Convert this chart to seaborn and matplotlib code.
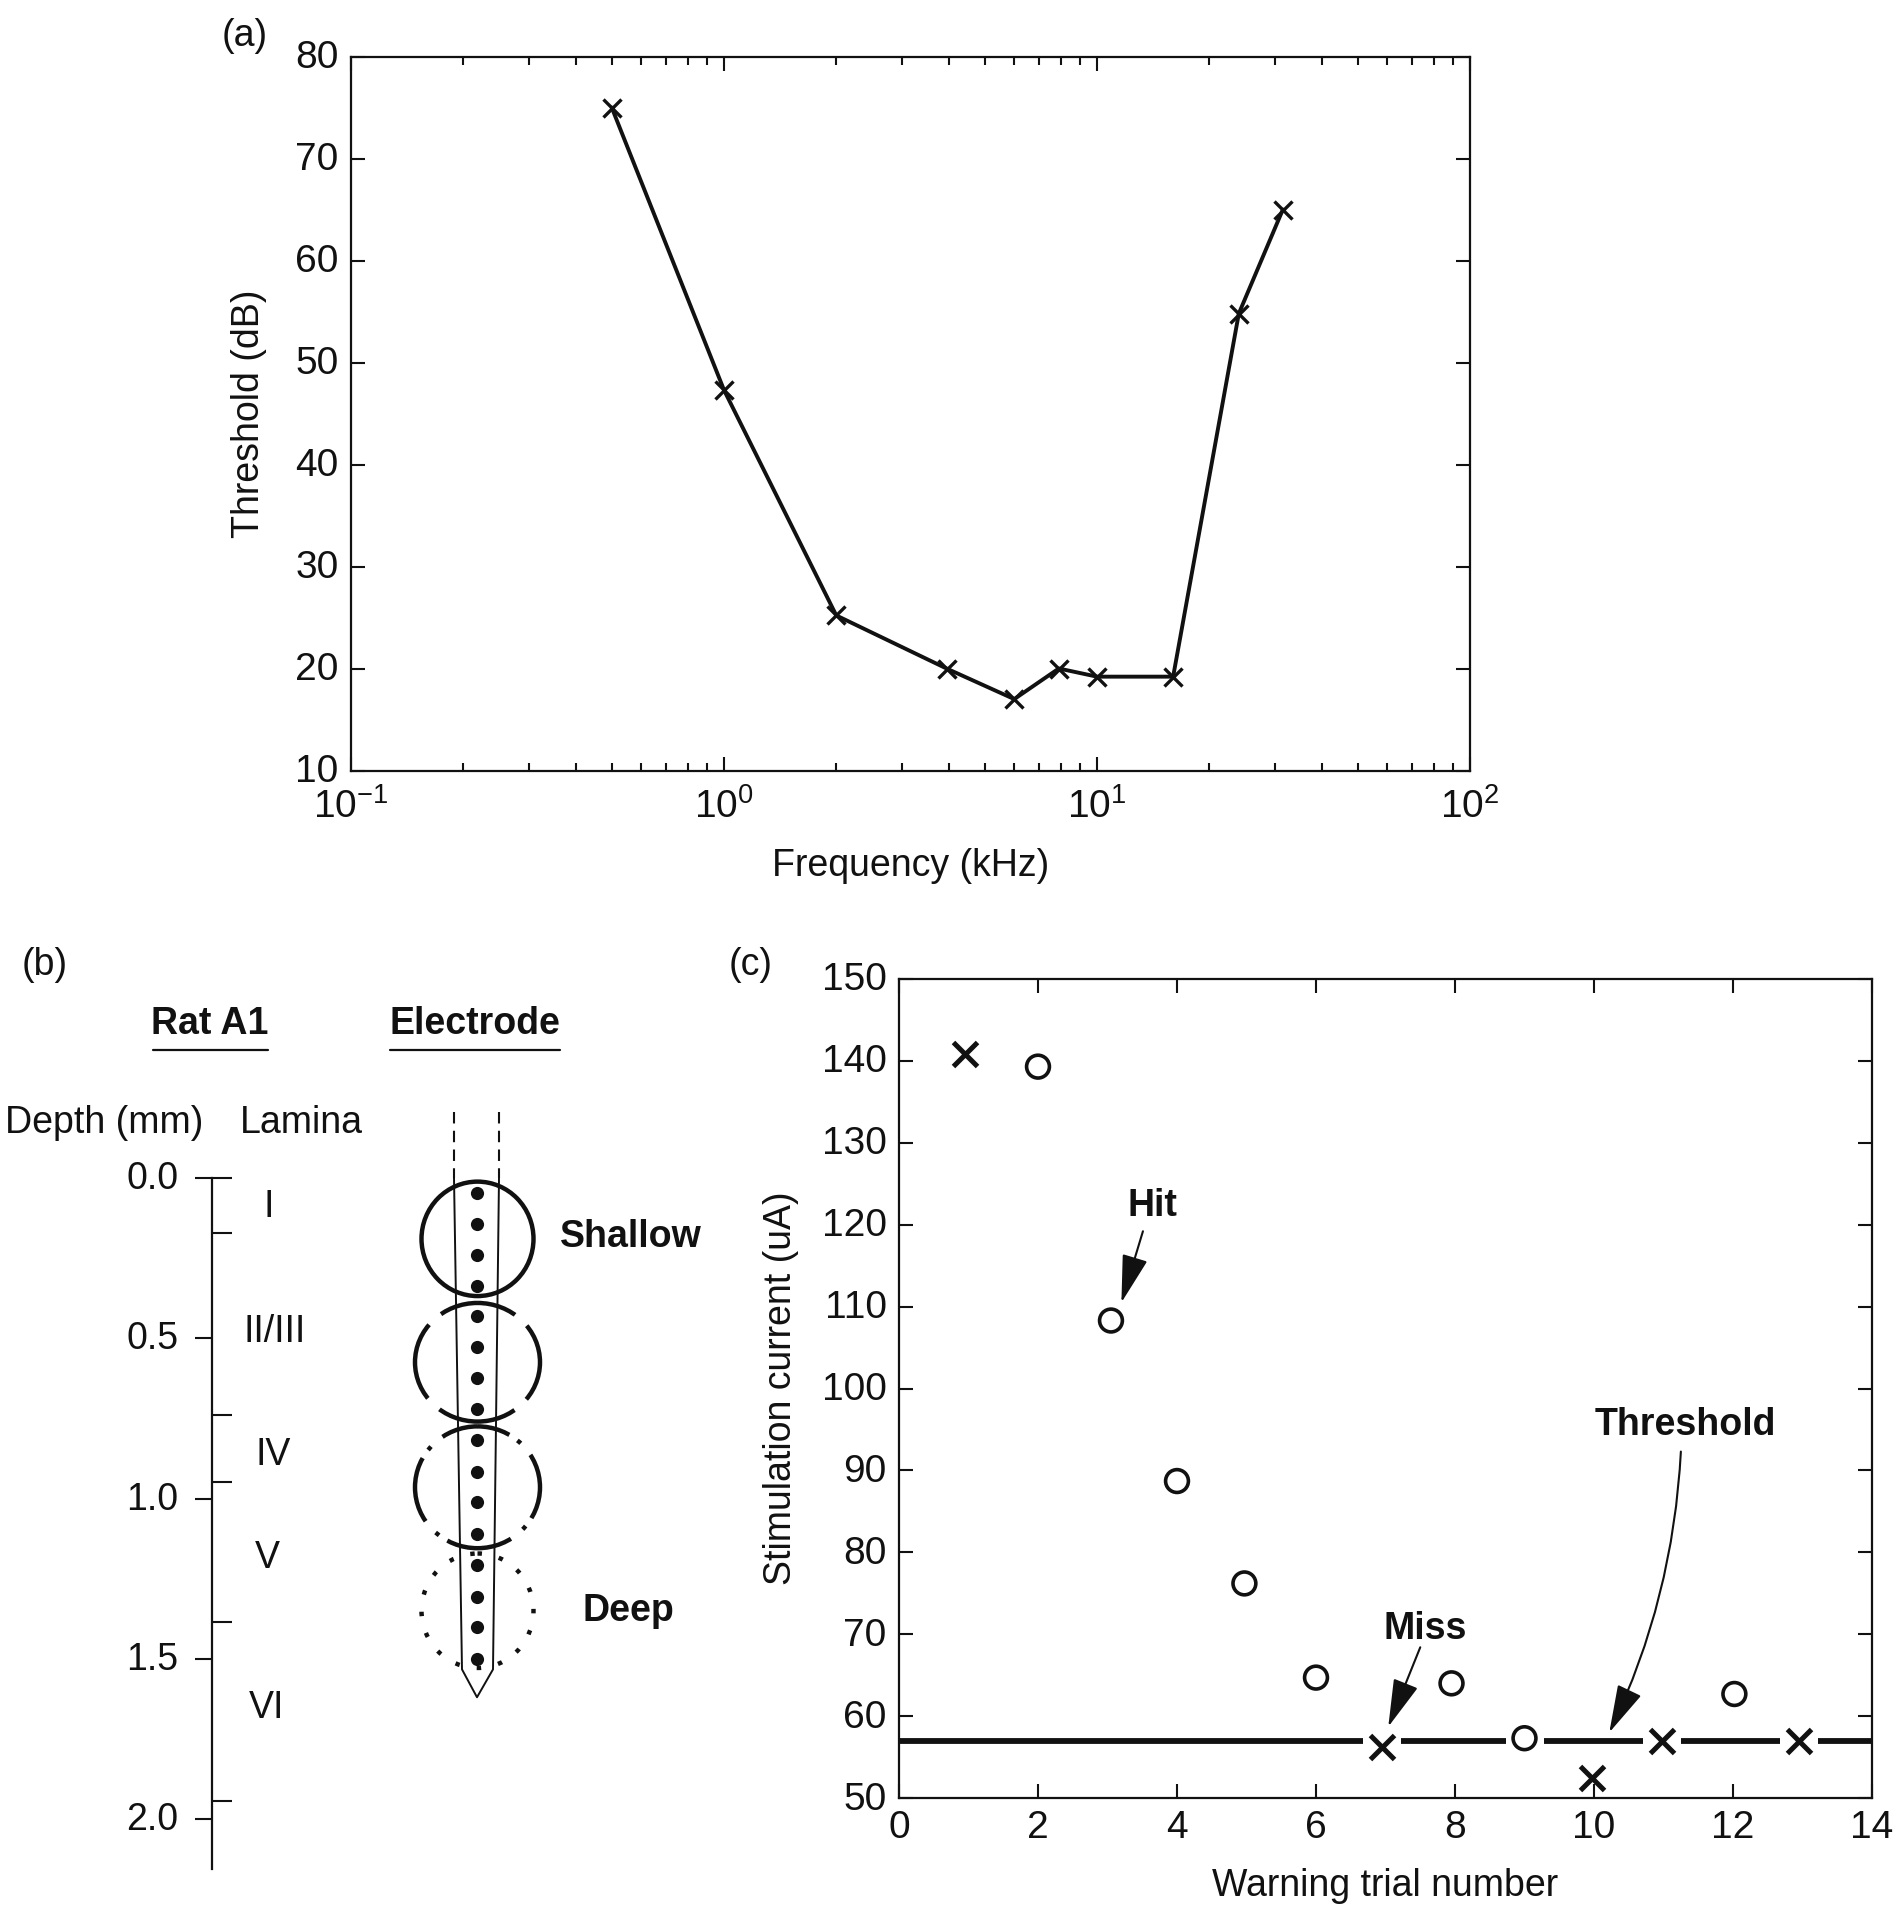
import numpy as np
import pandas as pd
import seaborn as sns
import matplotlib.pyplot as plt
from matplotlib.patches import Ellipse
from matplotlib.ticker import LogLocator, NullFormatter
from matplotlib.transforms import ScaledTranslation

# panel a
freq_khz = [0.5, 1, 2, 3.95, 6, 7.9, 10, 16, 24, 31.5]
threshold_db = [75, 47.3, 25.2, 20, 17, 20, 19.2, 19.2, 54.8, 65]

# panel c
hit_trials = [2, 3.05, 4, 4.97, 6, 7.95, 9, 12.02]
hit_current = [139.3, 108.3, 88.7, 76.2, 64.7, 64, 57.3, 62.7]
miss_trials = [0.95, 6.95, 9.97, 10.98, 12.95]
miss_current = [140.8, 56.2, 52.5, 57, 57]
threshold_current = 57
halo_trials = [6.95, 9, 10.98, 12.95]

# panel b
depth_ticks = [0, 0.5, 1.0, 1.5, 2.0]
lamina_bounds = [0, 0.172, 0.74, 0.95, 1.384, 1.943]
lamina_names = ['I', 'II/III', 'IV', 'V', 'VI']
lamina_depths = [0.09, 0.48, 0.863, 1.185, 1.655]
contact_depths = [0.048, 0.144, 0.24, 0.338, 0.43, 0.526, 0.624, 0.722,
                  0.818, 0.916, 1.012, 1.11, 1.208, 1.306, 1.402, 1.5]
site_depths = [0.19, 0.575, 0.965, 1.35]
site_widths = [112, 125, 125, 112]
site_heights = [0.357, 0.37, 0.38, 0.357]
site_styles = ['-', (9, (18, 3.6)), (7.5, (15, 2.2, 1, 3.4)), (0, (1, 3.9))]

sns.set_theme(style='ticks')
plt.rcParams['font.family'] = ['Liberation Sans', 'DejaVu Sans']
plt.rcParams['mathtext.default'] = 'regular'
plt.rcParams['text.color'] = '#111111'
plt.rcParams['axes.labelcolor'] = '#111111'

W, H = 1901, 1920
fig = plt.figure(figsize=(W / 100, H / 100), dpi=100)


def axes_px(left, top, right, bottom):
    return fig.add_axes([left / W, 1 - bottom / H, (right - left) / W, (bottom - top) / H])


def text_px(x, y, s, **kw):
    kw.setdefault('fontsize', 27)
    fig.text(x / W, 1 - y / H, s, ha='center', va='center', **kw)


def nudge_ylabels(ax, pts=1.8):
    for lab in ax.get_yticklabels():
        lab.set_transform(lab.get_transform() + ScaledTranslation(0, pts / 72, fig.dpi_scale_trans))


# (a) threshold curve
ax_a = axes_px(351, 56.5, 1470, 770.5)
df_a = pd.DataFrame({'freq': freq_khz, 'thr': threshold_db})
sns.lineplot(data=df_a, x='freq', y='thr', color='#111111', linewidth=2.8, marker='x',
             markersize=12.5, markeredgewidth=2.4, markeredgecolor='#111111', ax=ax_a)
ax_a.set_xscale('log')
ax_a.set_xlim(0.1, 100)
ax_a.set_ylim(10, 80)
ax_a.set_yticks(range(10, 81, 10))
ax_a.xaxis.set_major_locator(LogLocator(base=10, numticks=5))
ax_a.xaxis.set_minor_locator(LogLocator(base=10, subs=np.arange(2, 10), numticks=5))
ax_a.xaxis.set_minor_formatter(NullFormatter())
ax_a.set_xlabel('Frequency (kHz)', fontsize=27, labelpad=15.5)
ax_a.set_ylabel('Threshold (dB)', fontsize=27, labelpad=20)

# (c) staircase
ax_c = axes_px(899, 979, 1872, 1798)
ax_c.set_xlim(0, 14)
ax_c.set_ylim(50, 150)
ax_c.axhline(threshold_current, color='#111111', linewidth=4.2, zorder=1)
df_halo = pd.DataFrame({'trial': halo_trials, 'cur': [threshold_current] * len(halo_trials)})
sns.scatterplot(data=df_halo, x='trial', y='cur', marker='s', s=780, color='white',
                linewidth=0, zorder=2, ax=ax_c)
df_hit = pd.DataFrame({'trial': hit_trials, 'cur': hit_current})
df_miss = pd.DataFrame({'trial': miss_trials, 'cur': miss_current})
sns.scatterplot(data=df_hit, x='trial', y='cur', marker='o', s=270, facecolors='none',
                edgecolor='#111111', linewidth=2.6, zorder=3, ax=ax_c)
sns.scatterplot(data=df_miss, x='trial', y='cur', marker='x', s=300, color='#111111',
                linewidth=3.6, zorder=3, ax=ax_c)
ax_c.set_xticks(range(0, 15, 2))
ax_c.set_yticks(range(50, 151, 10))
ax_c.set_xlabel('Warning trial number', fontsize=27, labelpad=15.5)
ax_c.set_ylabel('Stimulation current (uA)', fontsize=27, labelpad=16)

arrow = dict(arrowstyle='-|>,head_length=1.25,head_width=0.34', color='#111111', linewidth=1.5,
             shrinkA=0, shrinkB=0, mutation_scale=24)
ax_c.annotate('', xy=(3.2, 110.5), xytext=(3.51, 119.2), arrowprops=arrow, zorder=4)
ax_c.annotate('', xy=(7.04, 58.7), xytext=(7.5, 68.4), arrowprops=arrow, zorder=4)
ax_c.annotate('', xy=(10.22, 58), xytext=(11.25, 92.3),
              arrowprops=dict(arrow, connectionstyle='arc3,rad=-0.1'), zorder=4)
ax_c.text(3.64, 122.3, 'Hit', fontsize=27, fontweight='bold', ha='center', va='center')
ax_c.text(7.57, 70.6, 'Miss', fontsize=27, fontweight='bold', ha='center', va='center')
ax_c.text(11.32, 95.5, 'Threshold', fontsize=27, fontweight='bold', ha='center', va='center')

for ax in (ax_a, ax_c):
    ax.tick_params(which='major', direction='in', top=True, right=True, length=10, width=1.5,
                   labelsize=28, pad=9, color='#111111', labelcolor='#111111')
    ax.tick_params(which='minor', direction='in', top=True, right=False, length=6, width=1.5,
                   color='#111111')
    for sp in ax.spines.values():
        sp.set_linewidth(1.6)
        sp.set_color('#111111')
        sp.set_visible(True)
    nudge_ylabels(ax)
ax_a.tick_params(axis='x', which='major', pad=13)

# (b) electrode schematic, x in pixels and y in depth
ax_b = axes_px(212, 950, 760, 1880)
ax_b.patch.set_alpha(0)
ax_b.set_xlim(212, 760)
ax_b.set_ylim(2.19, -0.711)
for name in ('top', 'right', 'bottom'):
    ax_b.spines[name].set_visible(False)
ax_b.spines['left'].set_bounds(0, 2.155)
ax_b.spines['left'].set_linewidth(1.6)
ax_b.spines['left'].set_color('#111111')
ax_b.set_xticks([])
ax_b.set_yticks(depth_ticks)
ax_b.set_yticklabels([f'{d:.1f}' for d in depth_ticks])
ax_b.set_yticks(lamina_bounds, minor=True)
ax_b.yaxis.remove_overlapping_locs = False
ax_b.tick_params(axis='y', which='major', direction='out', length=12, width=1.5, labelsize=27,
                 pad=12, color='#111111', labelcolor='#111111')
ax_b.tick_params(axis='y', which='minor', direction='in', length=14.5, width=1.5, color='#111111')
nudge_ylabels(ax_b, 2)

ax_b.plot([454, 454], [-0.205, 0], color='#111111', linewidth=1.5, linestyle=(0, (5.5, 3.5)))
ax_b.plot([499, 499], [-0.205, 0], color='#111111', linewidth=1.5, linestyle=(0, (5.5, 3.5)))
ax_b.plot([454, 462, 477, 493, 499], [0, 1.533, 1.62, 1.533, 0], color='#111111', linewidth=1.4)
df_contacts = pd.DataFrame({'x': [477] * len(contact_depths), 'depth': contact_depths})
sns.scatterplot(data=df_contacts, x='x', y='depth', s=90, color='#111111', linewidth=0,
                zorder=3, ax=ax_b)
ax_b.set_xlabel('')
ax_b.set_ylabel('')
for depth, style, w, h in zip(site_depths, site_styles, site_widths, site_heights):
    ax_b.add_patch(Ellipse((477.5, depth), w, h, fill=False, edgecolor='#111111',
                           linewidth=3.2, linestyle=style, zorder=4))

text_px(210, 1024, 'Rat A1', fontweight='bold')
text_px(475, 1024, 'Electrode', fontweight='bold')
fig.add_artist(plt.Line2D([153 / W, 268 / W], [1 - 1050 / H] * 2, color='#111111', linewidth=1.6))
fig.add_artist(plt.Line2D([390 / W, 560 / W], [1 - 1050 / H] * 2, color='#111111', linewidth=1.6))
text_px(104, 1123, 'Depth (mm)')
text_px(301, 1123, 'Lamina')
for name, depth, x in zip(lamina_names, lamina_depths, [269, 275, 273, 267, 267]):
    ax_b.text(x, depth, name, fontsize=27, ha='center', va='center')
text_px(631, 1237, 'Shallow', fontweight='bold')
text_px(628, 1611, 'Deep', fontweight='bold')

text_px(245, 36, '(a)')
text_px(45, 965, '(b)')
text_px(751, 965, '(c)')

fig.savefig('out.png', dpi=100)
